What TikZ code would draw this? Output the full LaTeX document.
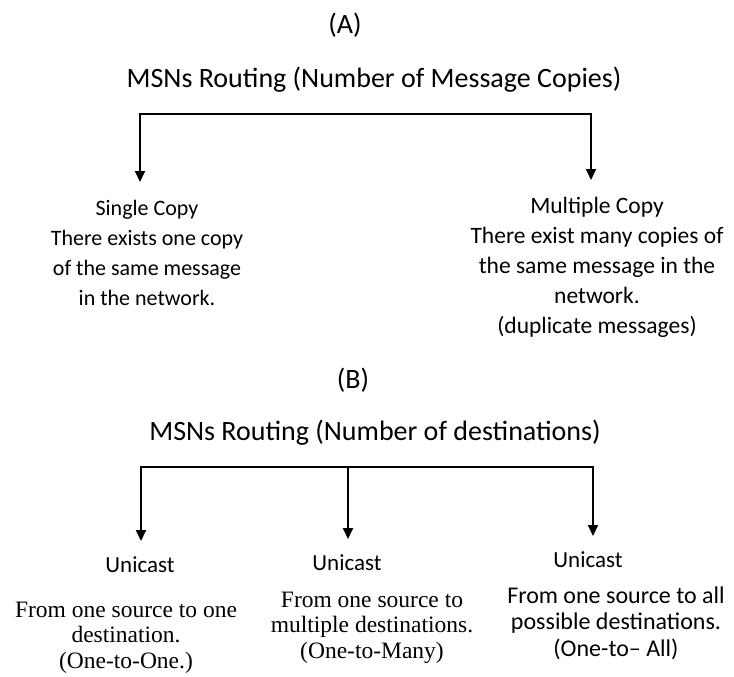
\documentclass[tikz,border=0pt]{standalone}
\usepackage{fontspec}
\setmainfont{Carlito}
\newfontfamily\timesfont{Liberation Serif}
\usetikzlibrary{arrows.meta}

\begin{document}
\begin{tikzpicture}[x=1pt,y=-1pt,
  bar/.style={line width=2pt,line cap=rect},
  arr/.style={line width=2pt,-{Triangle[width=10pt,length=11pt]}},
  head/.style={font=\fontsize{28}{32}\selectfont,inner sep=0pt,anchor=base},
  label/.style={font=\fontsize{23}{27}\selectfont,inner sep=0pt,anchor=base},
  block/.style={align=center,inner sep=0pt,anchor=north}]
\useasboundingbox[fill=white] (0,0) rectangle (734,677);

% ---------- (A) number of message copies ----------
\node[head] (labA) at (345,34) {(A)};
\node[head] (titleA) at (374,88) {MSNs Routing (Number of Message Copies)};
\node[block,font=\fontsize{22}{30}\selectfont] (single) at (147,194)
  {\strut Single Copy\\There exists one copy\\of the same message\\in the network.};
\node[block,font=\fontsize{23.5}{30}\selectfont] (multi) at (597,192.5)
  {\strut Multiple Copy\\There exist many copies of\\the same message in the\\network.\\(duplicate messages)};

\coordinate (A-l) at (140,114);
\coordinate (A-r) at (591,114);
\draw[bar] (A-l) -- (A-r);
\draw[arr] (A-l) -- (A-l |- 0,182);
\draw[arr] (A-r) -- (A-r |- 0,180);

% ---------- (B) number of destinations ----------
\node[head] (labB) at (353,388) {(B)};
\node[head] (titleB) at (375,440) {MSNs Routing (Number of destinations)};

\node[label] (uni1) at (140,572) {Unicast};
\node[label] (uni2) at (347,570) {Unicast};
\node[label] (uni3) at (588,567) {Unicast};

\node[block,font=\timesfont\fontsize{23.5}{25.5}\selectfont] (d1) at (126,599.15)
  {\strut From one source to one\\destination.\\(One-to-One.)};
\node[block,font=\timesfont\fontsize{23.5}{25.5}\selectfont] (d2) at (372,589.15)
  {\strut From one source to\\multiple destinations.\\(One-to-Many)};
\node[block,font=\fontsize{24}{26.5}\selectfont] (d3) at (616,584.45)
  {\strut From one source to all\\possible destinations.\\(One-to– All)};

\coordinate (B-l) at (141,467);
\coordinate (B-m) at (348,467);
\coordinate (B-r) at (593,467);
\draw[bar] (B-l) -- (B-r);
\draw[arr] (B-l) -- (B-l |- 0,541);
\draw[arr] (B-m) -- (B-m |- 0,539);
\draw[arr] (B-r) -- (B-r |- 0,536);
\end{tikzpicture}
\end{document}
